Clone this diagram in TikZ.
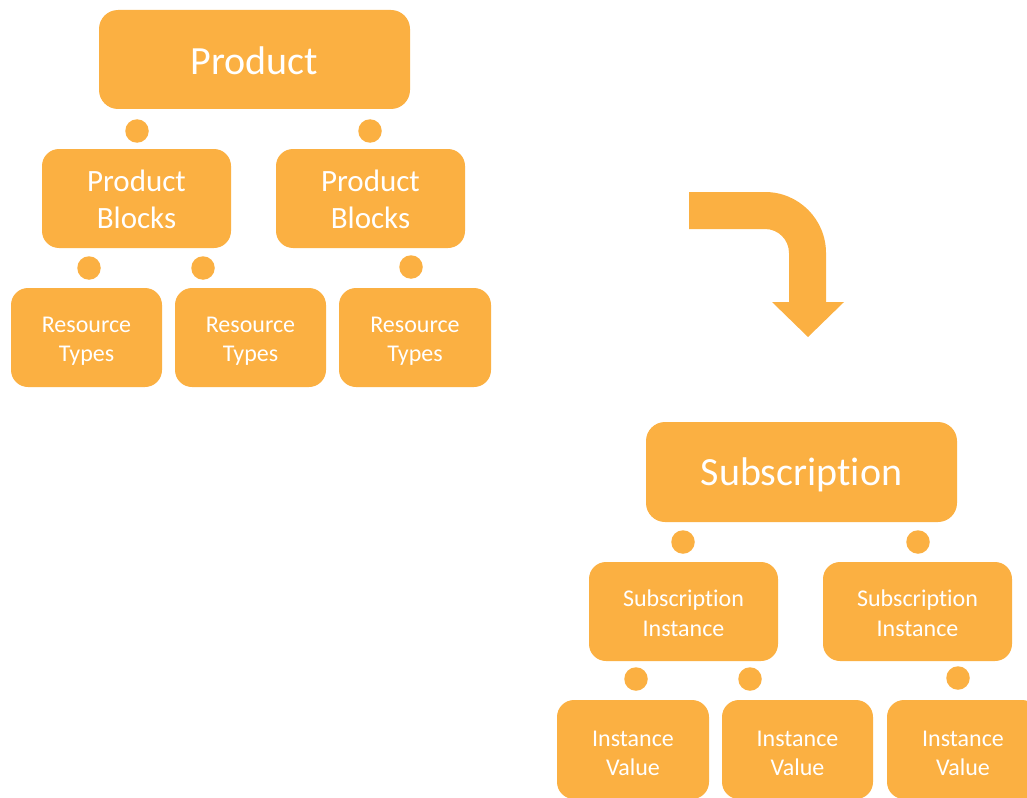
\documentclass[tikz,border=0pt]{standalone}
\usepackage{fontspec}
\setmainfont[Ligatures=NoCommon]{Carlito}
\definecolor{boxor}{HTML}{FBB042}
\begin{document}
\begin{tikzpicture}[x=1pt,y=-1pt,
  box/.style={fill=boxor,draw=none,rounded corners=17pt,inner sep=0pt},
  txt/.style={text=white,align=center,inner sep=0pt},
  bigbox/.style={box,rounded corners=19pt},
  bigtxt/.style={txt,font=\fontsize{40}{48}\selectfont},
  midtxt/.style={txt,font=\fontsize{31}{37}\selectfont,yshift=-1pt},
  smalltxt/.style={txt,font=\fontsize{24}{29}\selectfont,yshift=-4pt},
  sitxt/.style={txt,font=\fontsize{24}{30}\selectfont,yshift=-2pt},
  dot/.style={circle,fill=boxor,draw=none,minimum size=23.5pt,inner sep=0pt}]
\useasboundingbox (0,0) rectangle (1027,797);
\clip (0,0) rectangle (1027,797);
% Product tree
\node[bigbox,minimum width=311pt,minimum height=99pt,label={[bigtxt,yshift=-1pt]center:Product}] (prod) at (254.5,59.5) {};
\node[dot] (d1) at (137,131) {};
\node[dot] (d2) at (370,131) {};
\node[box,minimum width=189pt,minimum height=99pt,label={[midtxt]center:{Product\\Blocks}}] (pb1) at (136.5,198.5) {};
\node[box,minimum width=189pt,minimum height=99pt,label={[midtxt]center:{Product\\Blocks}}] (pb2) at (370.5,198.5) {};
\node[dot] (d3) at (89,268) {};
\node[dot] (d4) at (203,268) {};
\node[dot] (d5) at (411,267) {};
\node[box,minimum width=151pt,minimum height=99pt,label={[smalltxt]center:{Resource\\Types}}] (rt1) at (86.5,337.5) {};
\node[box,minimum width=151pt,minimum height=99pt,label={[smalltxt]center:{Resource\\Types}}] (rt2) at (250.5,337.5) {};
\node[box,minimum width=152pt,minimum height=99pt,label={[smalltxt]center:{Resource\\Types}}] (rt3) at (415,337.5) {};
% Arrow
\fill[boxor] (689,192) -- (765,192) .. controls (798.7,192) and (826,219.3) .. (826,253)
  -- (826,302) -- (844,302) -- (808,337) -- (772,302) -- (789,302) -- (789,253)
  .. controls (789,239.7) and (778.3,229) .. (765,229) -- (689,229) -- cycle;
% Subscription tree
\node[bigbox,minimum width=311pt,minimum height=100pt,label={[bigtxt,yshift=-3pt]center:Subscription}] (sub) at (801.5,472) {};
\node[dot] (e1) at (683,542) {};
\node[dot] (e2) at (918,542) {};
\node[box,minimum width=189pt,minimum height=99pt,label={[sitxt]center:{Subscription\\Instance}}] (si1) at (683.5,611.5) {};
\node[box,minimum width=189pt,minimum height=99pt,label={[sitxt]center:{Subscription\\Instance}}] (si2) at (917.5,611.5) {};
\node[dot] (e3) at (636,679) {};
\node[dot] (e4) at (750,679) {};
\node[dot] (e5) at (958,678) {};
\node[box,minimum width=152pt,minimum height=99pt,label={[smalltxt]center:{Instance\\Value}}] (iv1) at (633,749.5) {};
\node[box,minimum width=151pt,minimum height=99pt,label={[smalltxt]center:{Instance\\Value}}] (iv2) at (797.5,749.5) {};
\node[box,minimum width=152pt,minimum height=99pt,label={[smalltxt]center:{Instance\\Value}}] (iv3) at (963,749.5) {};
\end{tikzpicture}
\end{document}
